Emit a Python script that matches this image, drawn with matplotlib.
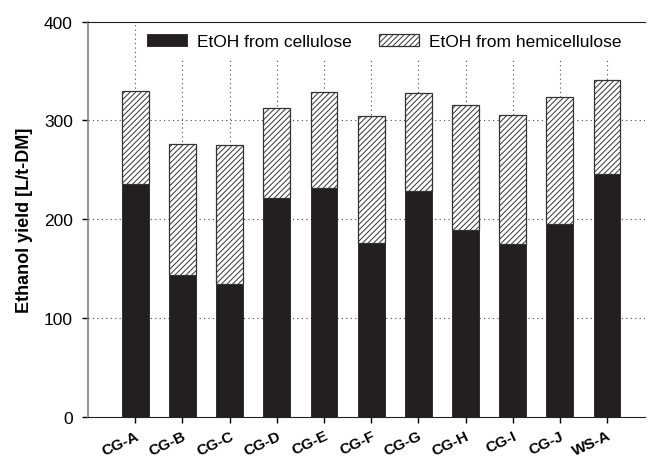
import matplotlib
matplotlib.use("Agg")
import matplotlib.pyplot as plt
from matplotlib.patches import Rectangle
import numpy as np

categories = ["CG-A", "CG-B", "CG-C", "CG-D", "CG-E", "CG-F", "CG-G", "CG-H", "CG-I", "CG-J", "WS-A"]
total = [330, 276, 275, 313, 329, 304, 328, 316, 305, 324, 341]
cellulose = [236, 144, 135, 222, 232, 176, 229, 189, 175, 195, 246]
hemicellulose = [t - c for t, c in zip(total, cellulose)]
yticks = [0, 100, 200, 300, 400]

plt.rcParams['font.family'] = ['Liberation Sans', 'DejaVu Sans']
plt.rcParams['hatch.linewidth'] = 0.7
plt.rcParams['hatch.color'] = '#333333'

fig = plt.figure(figsize=(6.48, 4.60), dpi=100)
ax = fig.add_axes([0.136, 0.091, 0.859, 0.860])

x = np.arange(len(categories))
w = 0.57
ax.bar(x, cellulose, w, color='#231f20', edgecolor='#231f20', linewidth=0.6, zorder=3,
       label='EtOH from cellulose')
ax.bar(x, hemicellulose, w, bottom=cellulose, color='white', edgecolor='#333333',
       hatch='//////', linewidth=0.9, zorder=3, label='EtOH from hemicellulose')

ax.set_xlim(-1, 10.8)
ax.set_ylim(0, 400)
ax.set_yticks(yticks)
ax.set_xticks(x)
ax.set_xticklabels(categories, rotation=25, ha='right', rotation_mode='anchor',
                   fontsize=11, fontweight='bold')
ax.tick_params(axis='x', length=4, width=1, pad=4)
ax.tick_params(axis='y', length=4, width=1, pad=7, labelsize=12.5)

for v in [100, 200, 300]:
    ax.axhline(v, color='#444444', linestyle=(0, (1, 3)), linewidth=0.8, zorder=1)
for xi in x:
    ax.axvline(xi, color='#444444', linestyle=(0, (1, 3)), linewidth=0.8, zorder=1)

# white background behind the legend
ax.add_patch(Rectangle((0.093, 0.906), 0.871, 0.094, transform=ax.transAxes,
                       facecolor='white', edgecolor='none', zorder=2))

ax.spines['right'].set_visible(False)
ax.spines['left'].set_color('#808080')
ax.spines['left'].set_linewidth(1.2)
ax.spines['bottom'].set_color('#222222')
ax.spines['top'].set_color('#222222')

ax.set_ylabel('Ethanol yield [L/t-DM]', fontsize=13, fontweight='bold', labelpad=8)

leg = ax.legend(loc='center left', bbox_to_anchor=(0.106, 0.949), ncol=2, frameon=False,
                fontsize=12.5, handlelength=2.3, handleheight=0.7, handletextpad=0.55,
                columnspacing=1.6, borderpad=0.0, borderaxespad=0.0)
leg.set_zorder(4)

fig.savefig('out.png', dpi=100)
